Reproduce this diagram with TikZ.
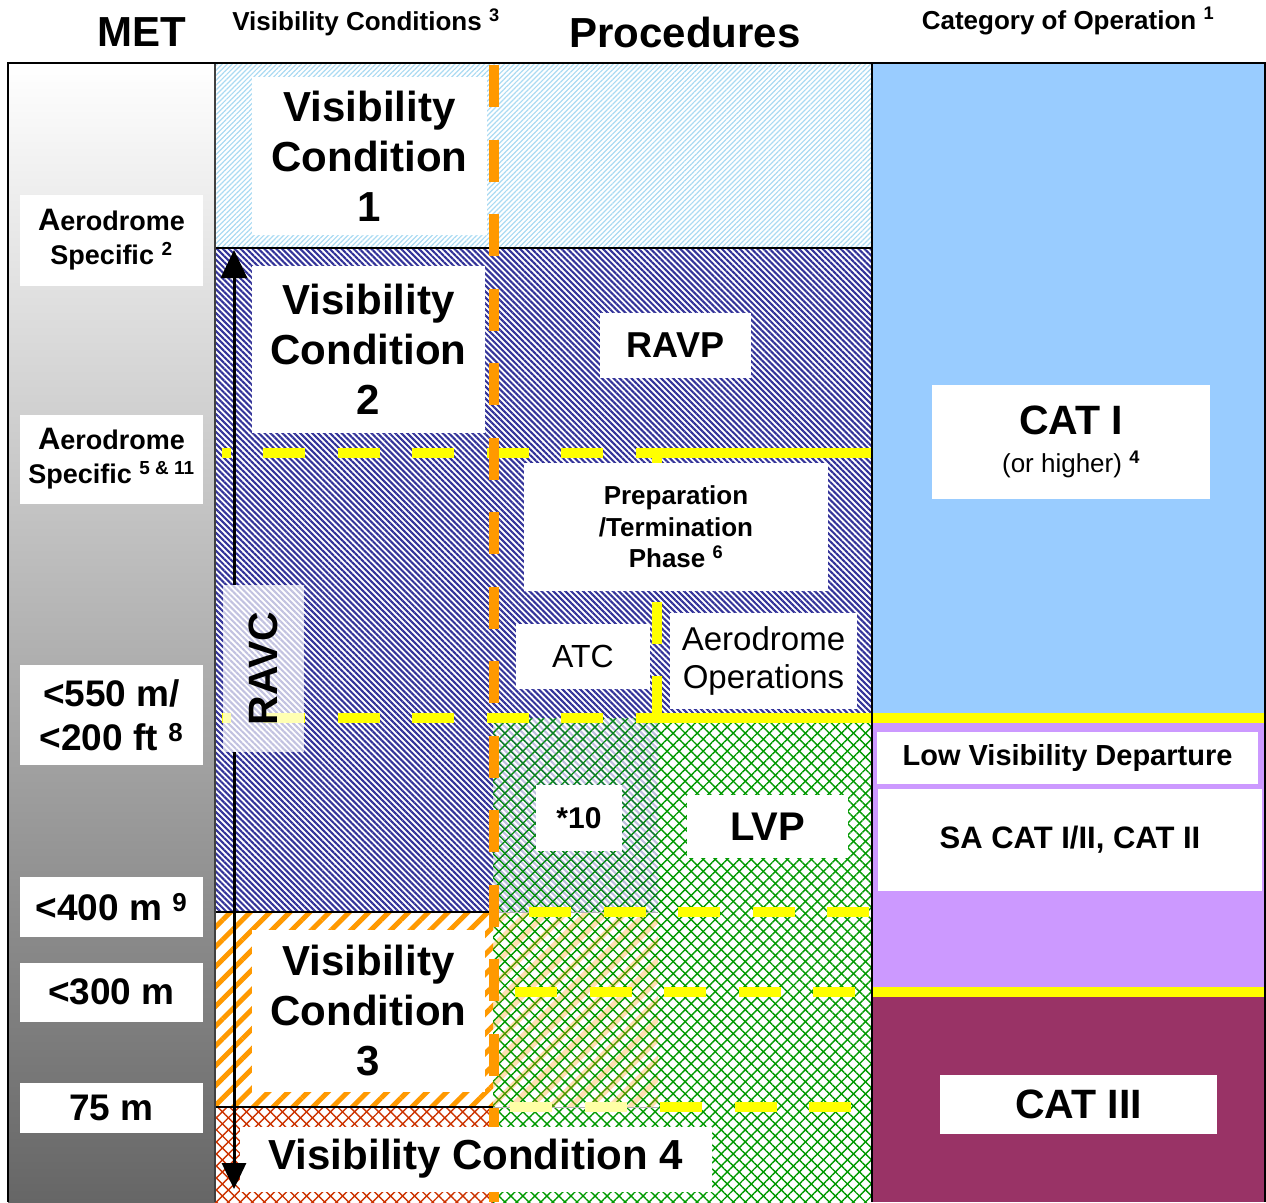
\documentclass[tikz,border=0pt]{standalone}
\usepackage{fontspec}
\setmainfont{Liberation Sans}
\usetikzlibrary{patterns.meta,arrows.meta}
\definecolor{ravpnavy}{RGB}{51,51,153}
\definecolor{vcsky}{RGB}{170,218,242}
\definecolor{vcorange}{RGB}{255,153,0}
\definecolor{lvpgreen}{RGB}{0,153,0}
\definecolor{vcred}{RGB}{204,51,0}
\definecolor{catblue}{RGB}{153,204,255}
\definecolor{catlilac}{RGB}{204,153,255}
\definecolor{catwine}{RGB}{153,51,102}
\definecolor{markyellow}{RGB}{255,255,0}

\begin{document}
\begin{tikzpicture}[x=1pt,y=-1pt,
        navyhatch/.style={pattern={Lines[angle=-45,distance=4.2pt,line width=2.1pt]},pattern color=ravpnavy},
        skyhatch/.style={pattern={Lines[angle=45,distance=3.5pt,line width=1.2pt]},pattern color=vcsky},
        orangehatch/.style={pattern={Lines[angle=45,distance=14pt,line width=5pt]},pattern color=vcorange},
        greenup/.style={pattern={Lines[angle=45,distance=8.5pt,line width=1.4pt]},pattern color=lvpgreen},
        greendown/.style={pattern={Lines[angle=-45,distance=8.5pt,line width=1.4pt]},pattern color=lvpgreen},
        redup/.style={pattern={Lines[angle=45,distance=8.5pt,line width=1.4pt]},pattern color=vcred},
        reddown/.style={pattern={Lines[angle=-45,distance=8.5pt,line width=1.4pt]},pattern color=vcred},
        ydash/.style={markyellow,line width=10pt,dash pattern=on 42pt off 32.5pt},
        box/.style={fill=white,inner sep=0pt,align=center},
        vcfont/.style={font=\fontsize{42}{50}\selectfont\bfseries},
        metfont/.style={font=\fontsize{27}{34}\selectfont\bfseries},
        visfont/.style={font=\fontsize{37}{44}\selectfont\bfseries},
        headfont/.style={font=\fontsize{26}{30}\selectfont\bfseries},
        bigfont/.style={font=\fontsize{42}{50}\selectfont\bfseries},
        ]
        \useasboundingbox (0,0) rectangle (1266,1202);
        % columns
        \shade[top color=white,middle color=black!22,bottom color=black!60] (8,63) rectangle (215,1202);
        \fill[catblue] (872,63) rectangle (1266,718);
        \fill[catlilac] (872,718) rectangle (1266,992);
        \fill[catwine] (872,992) rectangle (1266,1202);
        % visibility condition areas
        \fill[skyhatch] (215,63) rectangle (872,248);
        \fill[navyhatch] (215,248) -- (872,248) -- (872,718) -- (493,718) -- (493,912) -- (215,912) -- cycle;
        \fill[orangehatch] (215,912) rectangle (493,1107);
        \fill[redup] (215,1107) rectangle (493,1202);
        \fill[reddown] (215,1107) rectangle (493,1202);
        \fill[greenup] (493,718) rectangle (872,1202);
        \fill[greendown] (493,718) rectangle (872,1202);
        \fill[navyhatch,opacity=.3] (493,718) rectangle (658,912);
        \fill[orangehatch,opacity=.3] (493,912) rectangle (658,1107);
        \draw[black!30] (493,912) -- (658,912) (493,1107) -- (658,1107);
        \draw[line width=2pt] (215,248) -- (872,248) (215,912) -- (493,912) (215,1107) -- (493,1107);
        % yellow limits
        \draw[ydash,dash phase=33.5pt] (222,453) -- (636,453);
        \draw[markyellow,line width=10pt] (636,453) -- (872,453);
        \draw[ydash,dash phase=33.5pt] (222,718) -- (636,718);
        \draw[markyellow,line width=10pt] (636,718) -- (1266,718);
        \draw[ydash] (657,718) -- (657,453);
        \draw[ydash] (529,912) -- (872,912);
        \draw[ydash] (515,992) -- (856,992);
        \draw[markyellow,line width=10pt] (872,992) -- (1266,992);
        \draw[ydash,markyellow!35] (510,1107) -- (640,1107);
        \draw[ydash] (660,1107) -- (851,1107);
        % orange limit
        \draw[vcorange,line width=10pt,dash pattern=on 42pt off 32.5pt,dash phase=72.5pt] (494,63) -- (494,1202);

        % headings
        \node (met) at (142,32) [bigfont] {MET};
        \node (vchead) at (366,22) [headfont] {Visibility Conditions \textsuperscript{3}};
        \node (proc) at (685,32) [bigfont] {Procedures};
        \node (cathead) at (1068,21) [headfont] {Category of Operation \textsuperscript{1}};

        % MET values
        \node (aeroa) at (111.5,240) [box,metfont,minimum width=183pt,minimum height=91pt] {{\fontsize{31}{34}\selectfont A}erodrome\\Specific \textsuperscript{2}};
        \node (aerob) at (111.5,459) [box,metfont,minimum width=183pt,minimum height=89pt] {{\fontsize{31}{34}\selectfont A}erodrome\\Specific \textsuperscript{5 \& 11}};
        \node (vis550) at (111.5,715) [box,visfont,minimum width=183pt,minimum height=100pt] {<550 m/\\<200 ft \textsuperscript{8}};
        \node (vis400) at (111.5,907) [box,visfont,minimum width=183pt,minimum height=60pt] {<400 m \textsuperscript{9}};
        \node (vis300) at (111.5,992) [box,visfont,minimum width=183pt,minimum height=59pt] {<300 m};
        \node (vis75) at (111.5,1108) [box,visfont,minimum width=183pt,minimum height=50pt] {75 m};

        % visibility conditions
        \node (vcone) at (369.5,156) [box,vcfont,minimum width=235pt,minimum height=158pt] {Visibility\\Condition\\1};
        \node (vctwo) at (368.5,349) [box,vcfont,minimum width=233pt,minimum height=167pt] {Visibility\\Condition\\2};
        \node (vcthree) at (368.5,1011) [box,vcfont,minimum width=233pt,minimum height=162pt] {Visibility\\Condition\\3};
        \node (vcfour) at (476,1159) [box,vcfont,minimum width=472pt,minimum height=65pt] {Visibility Condition 4};

        % procedures
        \node (ravp) at (675.5,345.5) [box,font=\fontsize{36}{40}\selectfont\bfseries,minimum width=151pt,minimum height=65pt] {RAVP};
        \node (prep) at (676,527) [box,font=\fontsize{26}{31.5}\selectfont\bfseries,minimum width=304pt,minimum height=128pt] {Preparation\\/Termination\\Phase \textsuperscript{6}};
        \node (atc) at (583,656) [box,font=\fontsize{32}{38}\selectfont,minimum width=134pt,minimum height=65pt] {ATC};
        \node (aeroops) at (763.5,661) [box,font=\fontsize{33}{38}\selectfont,minimum width=187pt,minimum height=96pt] {Aerodrome\\Operations};
        \node (starten) at (579,818) [box,font=\fontsize{30}{36}\selectfont\bfseries,minimum width=86pt,minimum height=66pt] {*10};
        \node (lvp) at (767.5,826.5) [box,font=\fontsize{40}{46}\selectfont\bfseries,minimum width=161pt,minimum height=63pt] {LVP};
        \node (ravc) at (263.5,668.5) [box,fill opacity=.7,text opacity=1,rotate=90,font=\fontsize{41}{46}\selectfont\bfseries,minimum width=167pt,minimum height=81pt] {RAVC};

        % categories
        \node (catone) at (1071,442) [box,font=\fontsize{26}{38}\selectfont,minimum width=278pt,minimum height=114pt] {{\fontsize{41}{46}\selectfont\bfseries CAT I}\\(or higher) \textsuperscript{\bfseries 4}};
        \node (lvd) at (1067.5,758) [box,font=\fontsize{29}{34}\selectfont\bfseries,minimum width=381pt,minimum height=52pt] {Low Visibility Departure};
        \node (sacat) at (1070,840) [box,font=\fontsize{31}{36}\selectfont\bfseries,minimum width=384pt,minimum height=102pt] {SA CAT I/II, CAT II};
        \node (catthree) at (1078.5,1104) [box,font=\fontsize{41}{46}\selectfont\bfseries,minimum width=277pt,minimum height=59pt] {CAT III};

        % RAVC range
        \coordinate (ravctop) at (234,250);
        \coordinate (ravcbottom) at (234,1189);
        \draw[line width=3pt,-{Triangle[length=28pt,width=26pt]}] (ravc.east -| ravctop) -- (ravctop);
        \draw[line width=3pt,-{Triangle[length=26pt,width=24pt]}] (ravc.west -| ravcbottom) -- (ravcbottom);

        % frame
        \draw[black!75,line width=2.5pt] (215,63) -- (215,1202);
        \draw[line width=2.5pt] (872,63) -- (872,1202);
        \draw[line width=2.5pt] (8,1202) -- (8,63) -- (1265,63) -- (1265,1202);
      \end{tikzpicture}
\end{document}
